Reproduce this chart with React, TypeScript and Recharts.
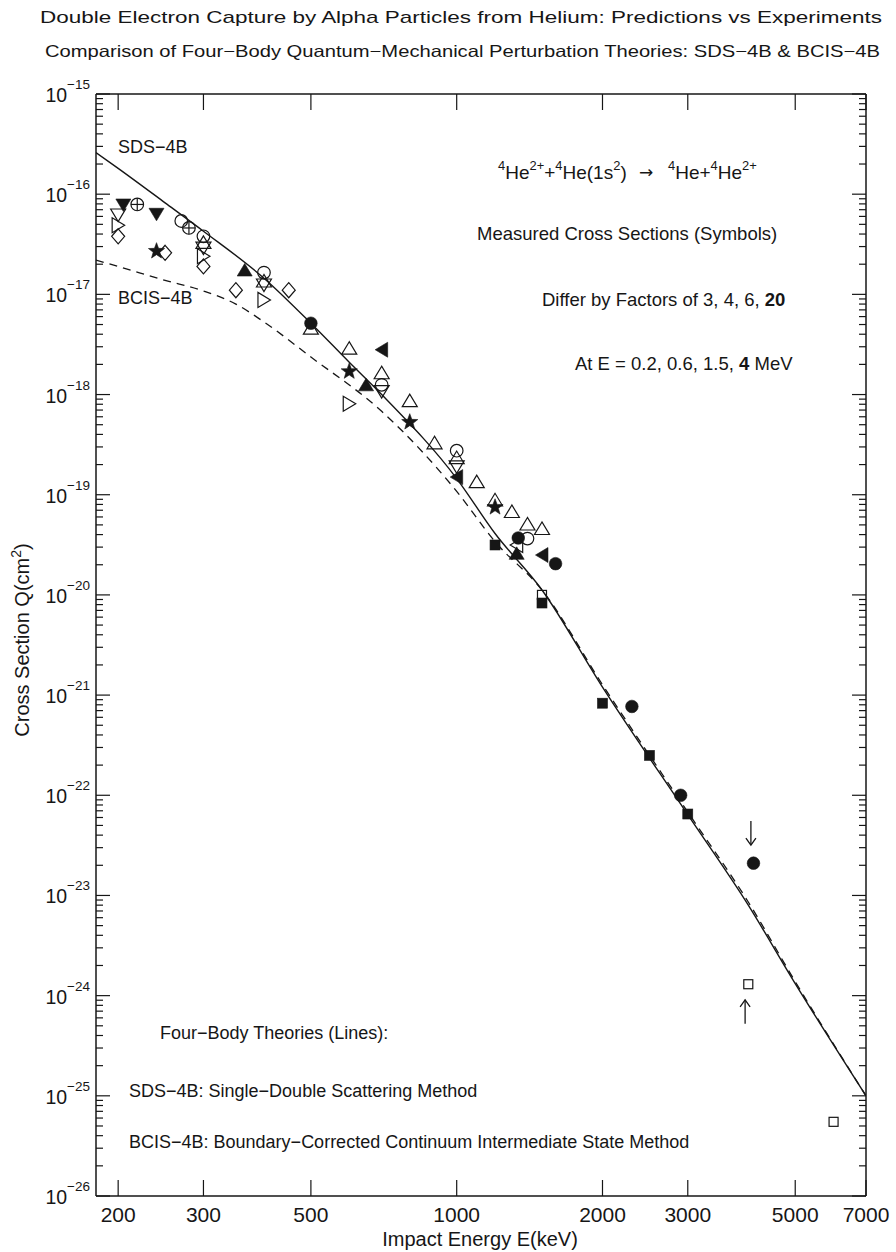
import React from "react";
import { ComposedChart, Line, Scatter, XAxis, YAxis } from "recharts";

// theory curves (energy in keV, cross section in cm^2)
const SDS_E = [180, 200, 250, 300, 400, 500, 600, 700, 1000, 1200, 1500, 2000, 3000, 4000, 5000, 7000];
const SDS_Q = [2.6e-16, 1.81e-16, 8.2e-17, 4.27e-17, 1.45e-17, 5.15e-18, 2.1e-18, 1.0e-18, 1.45e-19, 4.1e-20, 1.12e-20, 1.2e-21, 6.4e-23, 8.0e-24, 1.32e-24, 1.0e-25];
const BCIS_E = [180, 200, 250, 300, 350, 400, 500, 700, 1000, 1200, 1500, 2000, 3000, 4000, 5000, 7000];
const BCIS_Q = [2.2e-17, 1.9e-17, 1.38e-17, 1.08e-17, 8.0e-18, 5.3e-18, 2.37e-18, 6.8e-19, 1.08e-19, 3.4e-20, 1.12e-20, 1.27e-21, 6.8e-23, 8.6e-24, 1.38e-24, 1.0e-25];

// measured cross sections, one list per symbol
const DOWN_FILLED_E = [205, 240];
const DOWN_FILLED_Q = [7.8e-17, 6.3e-17];
const CIRCLE_PLUS_E = [219, 280];
const CIRCLE_PLUS_Q = [7.9e-17, 4.6e-17];
const DOWN_OPEN_E = [200, 300, 400, 700, 1000];
const DOWN_OPEN_Q = [6.2e-17, 2.9e-17, 1.24e-17, 1.07e-18, 1.9e-19];
const RIGHT_OPEN_E = [200, 300, 400, 600];
const RIGHT_OPEN_Q = [4.9e-17, 2.4e-17, 8.8e-18, 8.1e-19];
const DIAMOND_E = [200, 250, 300, 350, 450];
const DIAMOND_Q = [3.8e-17, 2.6e-17, 1.9e-17, 1.1e-17, 1.1e-17];
const STAR_E = [240, 600, 800, 1200];
const STAR_Q = [2.7e-17, 1.7e-18, 5.3e-19, 7.5e-20];
const CIRCLE_OPEN_E = [270, 300, 400, 700, 1000, 1400];
const CIRCLE_OPEN_Q = [5.4e-17, 3.8e-17, 1.65e-17, 1.25e-18, 2.75e-19, 3.65e-20];
const UP_OPEN_E = [300, 400, 500, 600, 700, 800, 900, 1000, 1100, 1200, 1300, 1400, 1500];
const UP_OPEN_Q = [3.3e-17, 1.36e-17, 4.6e-18, 2.9e-18, 1.65e-18, 8.7e-19, 3.3e-19, 2.35e-19, 1.35e-19, 8.9e-20, 6.8e-20, 5.1e-20, 4.6e-20];
const LEFT_FILLED_E = [700, 1000, 1500];
const LEFT_FILLED_Q = [2.8e-18, 1.5e-19, 2.5e-20];
const UP_FILLED_E = [365, 650, 1330];
const UP_FILLED_Q = [1.75e-17, 1.25e-18, 2.6e-20];
const CIRCLE_FILLED_E = [500, 1340, 1600, 2300, 2900, 4100];
const CIRCLE_FILLED_Q = [5.15e-18, 3.7e-20, 2.05e-20, 7.7e-22, 1.0e-22, 2.1e-23];
const SQUARE_FILLED_E = [1200, 1500, 2000, 2500, 3000];
const SQUARE_FILLED_Q = [3.15e-20, 8.3e-21, 8.3e-22, 2.5e-22, 6.5e-23];
const SQUARE_OPEN_E = [1500, 4000, 6000];
const SQUARE_OPEN_Q = [1.0e-20, 1.3e-24, 5.5e-26];
const LEFT_OPEN_E = [1330];
const LEFT_OPEN_Q = [3.15e-20];

// limit arrows
const ARROW_E = [4050, 3940];
const ARROW_Q = [4.2e-23, 6.9e-25];
const ARROW_DIR = ["down", "up"];

const X_TICKS = [200, 300, 500, 1000, 2000, 3000, 5000, 7000];
const Y_EXP = [-26, -25, -24, -23, -22, -21, -20, -19, -18, -17, -16, -15];
const Y_MINOR = [2, 3, 4, 5, 6, 7, 8, 9];

const INK = "#161616";
const FONT = "'Liberation Sans', Arial, Helvetica, sans-serif";

const pts = (es: number[], qs: number[]) => es.map((e, i) => ({ e, q: qs[i] }));

const Y_TICKS = Y_EXP.flatMap((p) =>
  p < -15 ? [Math.pow(10, p), ...Y_MINOR.map((m) => m * Math.pow(10, p))] : [Math.pow(10, p)]
);
const majorExp = (v: number) => Y_EXP.find((p) => Math.abs(v / Math.pow(10, p) - 1) < 1e-6);

function starPoints(cx: number, cy: number, ro: number, ri: number) {
  const out: string[] = [];
  for (let i = 0; i < 10; i++) {
    const r = i % 2 === 0 ? ro : ri;
    const a = -Math.PI / 2 + (i * Math.PI) / 5;
    out.push(`${cx + r * Math.cos(a)},${cy + r * Math.sin(a)}`);
  }
  return out.join(" ");
}

function Mark({ kind, cx, cy }: { kind: string; cx?: number; cy?: number }) {
  if (cx == null || cy == null) return null;
  const open = { fill: "#fff", fillOpacity: 0, stroke: INK, strokeWidth: 1.2 };
  const solid = { fill: INK, stroke: INK, strokeWidth: 0.6 };
  const up = `${cx},${cy - 6.5} ${cx - 7.5},${cy + 6} ${cx + 7.5},${cy + 6}`;
  const down = `${cx - 7.5},${cy - 6} ${cx + 7.5},${cy - 6} ${cx},${cy + 6.5}`;
  const right = `${cx - 6},${cy - 7.5} ${cx - 6},${cy + 7.5} ${cx + 6.5},${cy}`;
  const left = `${cx + 6},${cy - 7.5} ${cx + 6},${cy + 7.5} ${cx - 6.5},${cy}`;
  switch (kind) {
    case "downFilled": return <polygon points={down} {...solid} />;
    case "downOpen": return <polygon points={down} {...open} />;
    case "upFilled": return <polygon points={up} {...solid} />;
    case "upOpen": return <polygon points={up} {...open} />;
    case "rightOpen": return <polygon points={right} {...open} />;
    case "leftFilled": return <polygon points={left} {...solid} />;
    case "leftOpen": return <polygon points={left} {...open} />;
    case "diamond":
      return <polygon points={`${cx},${cy - 7.5} ${cx + 6.5},${cy} ${cx},${cy + 7.5} ${cx - 6.5},${cy}`} {...open} />;
    case "star": return <polygon points={starPoints(cx, cy, 8.5, 3.5)} {...solid} />;
    case "circleOpen": return <circle cx={cx} cy={cy} r={6.3} {...open} />;
    case "circleFilled": return <circle cx={cx} cy={cy} r={6.3} {...solid} />;
    case "circlePlus":
      return (
        <g>
          <circle cx={cx} cy={cy} r={6.3} {...open} />
          <line x1={cx - 6.3} x2={cx + 6.3} y1={cy} y2={cy} stroke={INK} strokeWidth={1.2} />
          <line x1={cx} x2={cx} y1={cy - 6.3} y2={cy + 6.3} stroke={INK} strokeWidth={1.2} />
        </g>
      );
    case "squareFilled": return <rect x={cx - 5} y={cy - 5} width={10} height={10} {...solid} />;
    case "squareOpen": return <rect x={cx - 4.5} y={cy - 4.5} width={9} height={9} {...open} />;
    default: return null;
  }
}

function Arrow(props: any) {
  const { cx, cy, payload } = props;
  if (cx == null || cy == null) return null;
  const s = payload.dir === "down" ? 1 : -1;
  return (
    <g stroke={INK} strokeWidth={1.3} fill="none">
      <line x1={cx} x2={cx} y1={cy - 12 * s} y2={cy + 12 * s} />
      <polyline points={`${cx - 5},${cy + 5 * s} ${cx},${cy + 12 * s} ${cx + 5},${cy + 5 * s}`} />
    </g>
  );
}

const SERIES = [
  { kind: "diamond", e: DIAMOND_E, q: DIAMOND_Q },
  { kind: "rightOpen", e: RIGHT_OPEN_E, q: RIGHT_OPEN_Q },
  { kind: "downOpen", e: DOWN_OPEN_E, q: DOWN_OPEN_Q },
  { kind: "upOpen", e: UP_OPEN_E, q: UP_OPEN_Q },
  { kind: "circleOpen", e: CIRCLE_OPEN_E, q: CIRCLE_OPEN_Q },
  { kind: "circlePlus", e: CIRCLE_PLUS_E, q: CIRCLE_PLUS_Q },
  { kind: "downFilled", e: DOWN_FILLED_E, q: DOWN_FILLED_Q },
  { kind: "star", e: STAR_E, q: STAR_Q },
  { kind: "upFilled", e: UP_FILLED_E, q: UP_FILLED_Q },
  { kind: "leftFilled", e: LEFT_FILLED_E, q: LEFT_FILLED_Q },
  { kind: "leftOpen", e: LEFT_OPEN_E, q: LEFT_OPEN_Q },
  { kind: "circleFilled", e: CIRCLE_FILLED_E, q: CIRCLE_FILLED_Q },
  { kind: "squareFilled", e: SQUARE_FILLED_E, q: SQUARE_FILLED_Q },
  { kind: "squareOpen", e: SQUARE_OPEN_E, q: SQUARE_OPEN_Q },
];

function LeftTick({ x, y, payload }: any) {
  const p = majorExp(payload.value);
  return (
    <g>
      <line x1={x} x2={x + (p != null ? 14 : 7)} y1={y} y2={y} stroke={INK} strokeWidth={1.2} />
      {p != null && (
        <text x={x - 6} y={y + 8} textAnchor="end" fontSize={19.5} fill={INK} fontFamily={FONT}>
          10<tspan dy={-13} fontSize={13.5}>{"\u2212" + Math.abs(p)}</tspan>
        </text>
      )}
    </g>
  );
}

function RightTick({ x, y, payload }: any) {
  const p = majorExp(payload.value);
  return <line x1={x} x2={x - (p != null ? 14 : 7)} y1={y} y2={y} stroke={INK} strokeWidth={1.2} />;
}

function BottomTick({ x, y, payload }: any) {
  return (
    <g>
      <line x1={x} x2={x} y1={y} y2={y - 16} stroke={INK} strokeWidth={1.2} />
      <text x={x} y={y + 26} textAnchor="middle" fontSize={21} fill={INK} fontFamily={FONT}>
        {payload.value}
      </text>
    </g>
  );
}

function TopTick({ x, y }: any) {
  return <line x1={x} x2={x} y1={y} y2={y + 16} stroke={INK} strokeWidth={1.2} />;
}

type Seg = { t: string; sup?: boolean; bold?: boolean };
function Rich({ x, y, segs, size }: { x: number; y: number; segs: Seg[]; size: number }) {
  let up = false;
  return (
    <text x={x} y={y} fontSize={size} fill={INK} fontFamily={FONT}>
      {segs.map((s, i) => {
        let dy = 0;
        if (s.sup && !up) { dy = -0.45 * size; up = true; }
        else if (!s.sup && up) { dy = 0.45 * size; up = false; }
        return (
          <tspan key={i} dy={dy} fontSize={s.sup ? size * 0.68 : size} fontWeight={s.bold ? "bold" : "normal"}>
            {s.t}
          </tspan>
        );
      })}
    </text>
  );
}

const REACTION_LEFT: Seg[] = [
  { t: "4", sup: true }, { t: "He" }, { t: "2+", sup: true }, { t: "+" }, { t: "4", sup: true },
  { t: "He(1s" }, { t: "2", sup: true }, { t: ")" },
];
const REACTION_RIGHT: Seg[] = [
  { t: "4", sup: true }, { t: "He+" }, { t: "4", sup: true }, { t: "He" }, { t: "2+", sup: true },
];

const axisLine = { stroke: INK, strokeWidth: 1.5 };

export default function App() {
  return (
    <div style={{ position: "relative", width: 896, height: 1252, background: "#fff" }}>
      <style>{"body{margin:0}"}</style>
      <ComposedChart width={896} height={1252} margin={{ top: 93, right: 29, bottom: 55, left: 95 }}>
        <XAxis
          xAxisId={0} dataKey="e" type="number" scale="log" domain={[180, 7000]} allowDataOverflow
          ticks={X_TICKS} interval={0} height={1} tickSize={0} tickMargin={0} tickLine={false}
          axisLine={axisLine} tick={<BottomTick />}
        />
        <XAxis
          xAxisId="top" orientation="top" dataKey="e" type="number" scale="log" domain={[180, 7000]} allowDataOverflow
          ticks={X_TICKS} interval={0} height={1} tickSize={0} tickMargin={0} tickLine={false}
          axisLine={axisLine} tick={<TopTick />}
        />
        <YAxis
          yAxisId={0} dataKey="q" type="number" scale="log" domain={[1e-26, 1e-15]} allowDataOverflow
          ticks={Y_TICKS} interval={0} width={1} tickSize={0} tickMargin={0} tickLine={false}
          axisLine={axisLine} tick={<LeftTick />}
        />
        <YAxis
          yAxisId="right" orientation="right" dataKey="q" type="number" scale="log" domain={[1e-26, 1e-15]} allowDataOverflow
          ticks={Y_TICKS} interval={0} width={1} tickSize={0} tickMargin={0} tickLine={false}
          axisLine={axisLine} tick={<RightTick />}
        />
        <Line data={pts(BCIS_E, BCIS_Q)} dataKey="q" type="monotone" dot={false} stroke={INK}
          strokeWidth={1.3} strokeDasharray="8 6" isAnimationActive={false} />
        <Line data={pts(SDS_E, SDS_Q)} dataKey="q" type="monotone" dot={false} stroke={INK}
          strokeWidth={1.4} isAnimationActive={false} />
        {SERIES.map((s) => (
          <Scatter key={s.kind} data={pts(s.e, s.q)} dataKey="q" isAnimationActive={false}
            shape={(p: any) => <Mark kind={s.kind} cx={p.cx} cy={p.cy} />} />
        ))}
        <Scatter data={ARROW_E.map((e, i) => ({ e, q: ARROW_Q[i], dir: ARROW_DIR[i] }))} dataKey="q"
          isAnimationActive={false} shape={<Arrow />} />
      </ComposedChart>
      <svg width={896} height={1252} style={{ position: "absolute", left: 0, top: 0, pointerEvents: "none" }}>
        <g fontFamily={FONT} fill={INK}>
          <text x={40} y={23} fontSize={17} textLength={842} lengthAdjust="spacingAndGlyphs">
            Double Electron Capture by Alpha Particles from Helium: Predictions vs Experiments
          </text>
          <text x={45} y={57} fontSize={16.5} textLength={835} lengthAdjust="spacingAndGlyphs">
            Comparison of Four{"\u2212"}Body Quantum{"\u2212"}Mechanical Perturbation Theories: SDS{"\u2212"}4B &amp; BCIS{"\u2212"}4B
          </text>
          <text x={118} y={153} fontSize={18}>SDS{"\u2212"}4B</text>
          <text x={118} y={304} fontSize={18}>BCIS{"\u2212"}4B</text>
          <text x={477} y={240} fontSize={18.5}>Measured Cross Sections (Symbols)</text>
          <Rich x={498} y={179} size={19} segs={REACTION_LEFT} />
          <text x={639} y={178} fontSize={17} fontFamily="'DejaVu Sans', sans-serif">{"\u2192"}</text>
          <Rich x={668} y={179} size={19} segs={REACTION_RIGHT} />
          <Rich x={542} y={306} size={18.5} segs={[{ t: "Differ by Factors of 3, 4, 6, " }, { t: "20", bold: true }]} />
          <Rich x={575} y={370} size={18.5} segs={[{ t: "At E = 0.2, 0.6, 1.5, " }, { t: "4", bold: true }, { t: " MeV" }]} />
          <text x={160} y={1039} fontSize={18}>Four{"\u2212"}Body Theories (Lines):</text>
          <text x={129} y={1097} fontSize={18}>SDS{"\u2212"}4B: Single{"\u2212"}Double Scattering Method</text>
          <text x={129} y={1148} fontSize={18}>BCIS{"\u2212"}4B: Boundary{"\u2212"}Corrected Continuum Intermediate State Method</text>
          <text x={480} y={1246} textAnchor="middle" fontSize={20}>Impact Energy E(keV)</text>
          <g transform="translate(29,640) rotate(-90)">
            <text x={0} y={0} textAnchor="middle" fontSize={20}>
              Cross Section Q(cm<tspan dy={-8} fontSize={14}>2</tspan><tspan dy={8}>)</tspan>
            </text>
          </g>
        </g>
      </svg>
    </div>
  );
}
